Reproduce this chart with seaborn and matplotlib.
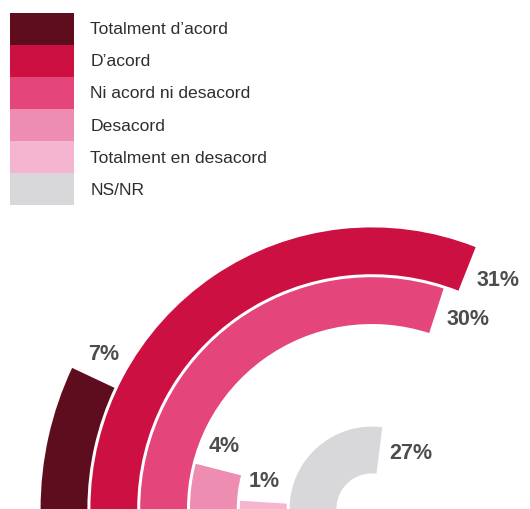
import numpy as np
import pandas as pd
import matplotlib
matplotlib.use("Agg")
import matplotlib.pyplot as plt
from matplotlib.patches import Patch
import seaborn as sns

# dades (legend order, outermost ring first)
categories = ["Totalment d’acord", "D’acord", "Ni acord ni desacord",
              "Desacord", "Totalment en desacord", "NS/NR"]
percentages = [7, 31, 30, 4, 1, 27]
colors = ["#5e0d1e", "#cc1042", "#e4457b", "#ee8db2", "#f5b4cf", "#d8d8da"]

df = pd.DataFrame({"categoria": categories, "pct": percentages})
df["theta"] = np.deg2rad(df["pct"] * 3.6)  # 100% = full circle

ring_order = categories[::-1]  # NS/NR innermost

sns.set_theme(style="white")
plt.rcParams["font.family"] = ["Liberation Sans", "DejaVu Sans"]

W, H = 530, 509
fig = plt.figure(figsize=(W / 100, H / 100), dpi=100)

# radial geometry in pixels: ring i centre = a + b * i
a, b = 59.0, 49.8
cx, cy = 372, H - 509
r0 = -a / b
rmax = 6.0
R = (rmax - r0) * b
ax = fig.add_axes([(cx - R) / W, (cy - R) / H, 2 * R / W, 2 * R / H], projection="polar")
ax.set_theta_zero_location("W")
ax.set_theta_direction(-1)

sns.barplot(data=df, x="theta", y="categoria", hue="categoria",
            order=ring_order, hue_order=categories,
            palette=dict(zip(categories, colors)), orient="h",
            width=0.94, dodge=False, saturation=1, linewidth=0,
            errorbar=None, legend=False, ax=ax)

ax.set_ylim(r0, rmax)
ax.set_rorigin(r0)
ax.set_axis_off()

# percentage labels just past the end of each arc
for i, cat in enumerate(ring_order):
    pct = df.loc[df["categoria"] == cat, "pct"].iloc[0]
    th = np.deg2rad(pct * 3.6)
    txt = f"{pct}%"
    tw, thh = 11.5 * (len(txt) - 1) + 19, 18
    d = 10 + abs(np.sin(th)) * tw / 2 + abs(np.cos(th)) * thh / 2
    ax.annotate(txt, xy=(th, i), xytext=(d * np.sin(th), d * np.cos(th) + 1),
                textcoords="offset pixels", ha="center", va="center",
                fontsize=15.5, fontweight="bold", color="#4d4d4d")

handles = [Patch(facecolor=c, edgecolor="none") for c in colors]
leg = fig.legend(handles, categories, loc="upper left",
                 bbox_to_anchor=(10 / W, 1 - 13 / H), bbox_transform=fig.transFigure,
                 frameon=False, fontsize=12.6, handlelength=3.66, handleheight=2.44,
                 labelspacing=0, handletextpad=0.92, borderpad=0, borderaxespad=0)
for t in leg.get_texts():
    t.set_color("#2e2e2e")

fig.savefig("out.png", dpi=100)
